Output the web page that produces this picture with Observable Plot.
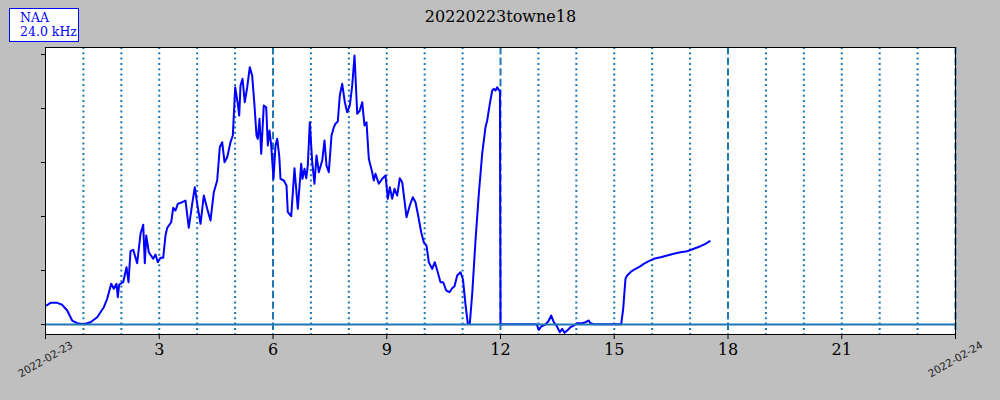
<!DOCTYPE html>
<html>
<head>
<meta charset="utf-8">
<script src="https://cdn.jsdelivr.net/npm/d3@7"></script>
<script src="https://cdn.jsdelivr.net/npm/@observablehq/plot@0.6"></script>
<style>
  html, body { margin: 0; padding: 0; background: #bfbfbf; }
  #wrap { position: relative; width: 1000px; height: 400px; }
  #legend { position: absolute; left: 9px; top: 8px; width: 58px; height: 30px; border: 1.5px solid #0000ff;
    background: #fff; color: #0000ff; font-family: "DejaVu Serif", serif; font-size: 12.5px; line-height: 14px; padding: 2px 0 0 10px; box-sizing: content-box; white-space: nowrap; }
</style>
</head>
<body>
<div id="wrap"><div id="legend">NAA<br>24.0 kHz</div></div>
<script>
const title = "20220223towne18";
const dateLabels = ["2022-02-23", "2022-02-24"];
const majorTicks = [0, 3, 6, 9, 12, 15, 18, 21, 24];
const yTicks = [0, 1, 2, 3, 4, 5];
const dottedHours = [1,2,3,4,5,7,8,9,10,11,13,14,15,16,17,19,20,21,22,23];
const dashedHours = [6, 12, 18, 24];

const hours = [
0.026,0.132,0.309,0.440,0.572,0.704,0.836,1.010,1.187,1.364,1.538,1.627,1.733,1.801,1.873,1.907,1.944,2.049,2.136,2.189,
2.242,2.313,2.418,2.506,2.577,2.619,2.656,2.724,2.840,2.901,2.962,3.033,3.104,3.165,3.210,3.315,3.368,3.429,3.489,3.605,
3.692,3.779,3.869,3.938,4.001,4.088,4.175,4.265,4.352,4.439,4.528,4.597,4.660,4.721,4.792,4.879,4.940,5.003,5.072,5.109,
5.143,5.196,5.256,5.320,5.388,5.451,5.512,5.565,5.599,5.644,5.689,5.757,5.821,5.863,5.908,5.953,6.013,6.066,6.111,6.164,
6.198,6.285,6.356,6.390,6.480,6.567,6.654,6.744,6.778,6.831,6.876,6.918,6.971,7.034,7.094,7.147,7.208,7.298,7.358,7.411,
7.472,7.543,7.604,7.648,7.709,7.762,7.825,7.894,7.957,8.026,8.089,8.150,8.221,8.289,8.353,8.413,8.466,8.527,8.616,8.658,
8.703,8.790,8.880,8.967,9.028,9.081,9.144,9.204,9.276,9.344,9.408,9.521,9.608,9.687,9.758,9.819,9.909,9.977,10.048,10.109,
10.199,10.267,10.346,10.418,10.489,10.568,10.655,10.726,10.787,10.858,10.945,11.011,11.077,11.138,11.190,11.254,11.341,11.428,11.517,11.604,
11.649,11.718,11.781,11.823,11.868,11.913,11.965,11.985,12.000,12.500,12.940,12.968,13.010,13.073,13.187,13.274,13.337,13.406,13.477,13.564,
13.627,13.688,13.759,13.846,13.933,14.023,14.155,14.242,14.329,14.373,14.460,14.800,15.183,15.236,15.296,15.341,15.428,15.515,15.647,15.779,
15.911,16.043,16.220,16.397,16.570,16.747,16.924,17.098,17.274,17.406,17.520
];
const values = [
0.352,0.402,0.402,0.365,0.259,0.074,0.024,0.006,0.043,0.135,0.320,0.476,0.754,0.661,0.754,0.506,0.741,0.783,1.061,0.783,
1.357,1.383,1.135,1.680,1.846,1.135,1.648,1.339,1.217,1.296,1.154,1.235,1.235,1.648,1.791,1.894,2.161,2.111,2.235,2.265,
2.296,1.791,2.235,2.543,2.235,1.865,2.389,2.143,1.926,2.450,2.667,3.283,3.376,3.006,3.098,3.376,3.500,4.394,4.087,3.870,
4.426,4.550,4.117,4.394,4.765,4.611,4.056,3.500,3.439,3.809,3.161,4.056,4.024,3.315,3.593,3.315,2.698,3.315,3.439,3.130,
2.698,2.667,2.574,2.080,2.006,2.894,2.143,2.976,2.698,2.883,2.709,2.944,3.746,3.006,2.606,3.130,2.820,3.037,3.407,2.944,
2.820,3.500,3.654,3.717,3.759,4.241,4.457,4.117,3.931,4.056,4.426,4.981,3.902,3.963,4.117,3.685,3.746,3.069,2.820,2.667,
2.791,2.606,2.698,2.759,2.328,2.543,2.328,2.513,2.389,2.709,2.635,1.987,2.204,2.357,2.265,2.050,1.709,1.524,1.463,1.154,
1.031,1.154,0.969,0.783,0.783,0.630,0.598,0.672,0.709,0.907,0.969,0.833,0.370,0.013,0.013,0.569,1.556,2.420,3.161,3.654,
3.778,4.087,4.333,4.365,4.333,4.394,4.333,4.333,0.006,0.006,0.006,-0.019,-0.098,-0.037,0.000,0.074,0.167,0.043,-0.019,-0.143,
-0.080,-0.154,-0.111,-0.050,-0.019,0.024,0.024,0.043,0.074,0.024,0.006,0.006,0.006,0.291,0.846,0.907,0.969,1.013,1.061,1.124,
1.172,1.217,1.246,1.278,1.309,1.339,1.357,1.402,1.450,1.494,1.543
];

const data = hours.map((h, i) => ({h, v: values[i]}));
const gridColor = "#1f77b4";

const chart = Plot.plot({
  width: 1000,
  height: 400,
  marginLeft: 45,
  marginRight: 45,
  marginTop: 47,
  marginBottom: 66,
  style: {background: "#bfbfbf", fontFamily: "'DejaVu Serif', serif", overflow: "visible"},
  x: {domain: [0, 24]},
  y: {domain: [-0.185, 5.13]},
  marks: [
    Plot.frame({fill: "white", stroke: null}),
    Plot.ruleX(dottedHours, {stroke: gridColor, strokeWidth: 2, strokeDasharray: "2,3.3"}),
    Plot.ruleX(dashedHours, {stroke: gridColor, strokeWidth: 2, strokeDasharray: "7.4,3.2"}),
    Plot.line(data, {x: "h", y: "v", stroke: "#0000ff", strokeWidth: 2}),
    Plot.ruleY([0], {stroke: gridColor, strokeWidth: 2}),
    Plot.axisX(majorTicks, {tickSize: 5, tickPadding: 4, fontSize: 16, label: null, stroke: "black", fill: "black",
      tickFormat: d => (d === 0 || d === 24) ? "" : String(d)}),
    Plot.text([0, 24], {x: d => d, frameAnchor: "bottom", dy: 25, rotate: -30, textAnchor: "middle", lineAnchor: "middle",
      text: (d, i) => dateLabels[i], fontSize: 10.5, fontFamily: "'DejaVu Sans', sans-serif", fill: "#222"}),
    Plot.axisY(yTicks, {tickSize: 4, tickFormat: () => "", label: null, stroke: "black"}),
    Plot.text([title], {frameAnchor: "top", dy: -31, fontSize: 16, lineAnchor: "middle", fill: "black"}),
    Plot.frame({stroke: "black", strokeWidth: 1})
  ]
});
document.getElementById("wrap").prepend(chart);
</script>
</body>
</html>
